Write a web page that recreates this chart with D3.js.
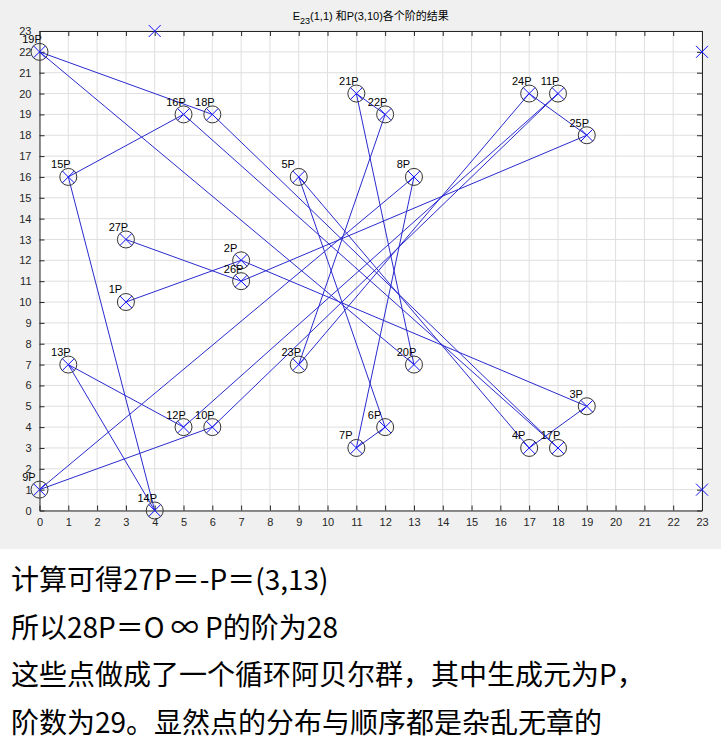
<!DOCTYPE html>
<html>
<head>
<meta charset="utf-8">
<script src="https://cdn.jsdelivr.net/npm/d3@7"></script>
<style>
  html, body { margin: 0; padding: 0; background: #ffffff; }
  svg { display: block; }
</style>
</head>
<body>
<script>
// ---- data ----
const pointLabels = ["1P","2P","3P","4P","5P","6P","7P","8P","9P","10P","11P","12P","13P","14P","15P","16P","17P","18P","19P","20P","21P","22P","23P","24P","25P","26P","27P"];
const pointX = [3,7,19,17,9,12,11,13,0,6,18,5,1,4,1,5,18,6,0,13,11,12,9,17,19,7,3];
const pointY = [10,12,5,3,16,4,3,16,1,4,20,4,7,0,16,19,3,19,22,7,20,19,7,20,18,11,13];
const extraX = [4,23,23];
const extraY = [23,22,1];
const xTicks = d3.range(0, 24);
const yTicks = d3.range(0, 24);
const textLines = [
  "计算可得27P＝-P＝(3,13)",
  "所以28P＝O ∞ P的阶为28",
  "这些点做成了一个循环阿贝尔群，其中生成元为P，",
  "阶数为29。显然点的分布与顺序都是杂乱无章的"
];

// ---- layout ----
const W = 721, H = 752;
const svg = d3.select("body").append("svg").attr("width", W).attr("height", H);
svg.append("rect").attr("x", 0).attr("y", 0).attr("width", W).attr("height", 549).attr("fill", "#f0f0f0");
svg.append("rect").attr("x", 0).attr("y", 549).attr("width", W).attr("height", H - 549).attr("fill", "#ffffff");

const x = d3.scaleLinear().domain([0, 23]).range([39.5, 702]);
const y = d3.scaleLinear().domain([0, 23]).range([510.5, 31]);

const axFont = "'Liberation Sans', Arial, sans-serif";
const axColor = "#262626";

// plot area
svg.append("rect").attr("x", x(0)).attr("y", y(23)).attr("width", x(23) - x(0)).attr("height", y(0) - y(23)).attr("fill", "#ffffff");

// grid
const grid = svg.append("g");
grid.selectAll("line.gx").data(xTicks).enter().append("line")
  .attr("x1", d => x(d)).attr("x2", d => x(d)).attr("y1", y(0)).attr("y2", y(23))
  .attr("stroke", "#dfdfdf").attr("stroke-width", 1);
grid.selectAll("line.gy").data(yTicks).enter().append("line")
  .attr("y1", d => y(d)).attr("y2", d => y(d)).attr("x1", x(0)).attr("x2", x(23))
  .attr("stroke", "#dfdfdf").attr("stroke-width", 1);

// axes (MATLAB box style, inward ticks)
const tl = 5;
const bottomAxis = d3.axisBottom(x).tickValues(xTicks).tickSizeInner(-tl).tickSizeOuter(0).tickPadding(8);
const topAxis = d3.axisTop(x).tickValues(xTicks).tickSizeInner(-tl).tickSizeOuter(0).tickFormat("");
const leftAxis = d3.axisLeft(y).tickValues(yTicks).tickSizeInner(-tl).tickSizeOuter(0).tickPadding(8);
const rightAxis = d3.axisRight(y).tickValues(yTicks).tickSizeInner(-tl).tickSizeOuter(0).tickFormat("");

function styleAxis(g) {
  g.select(".domain").attr("stroke", axColor).attr("stroke-width", 1);
  g.selectAll(".tick line").attr("stroke", axColor).attr("stroke-width", 1);
  g.selectAll(".tick text").attr("fill", axColor).style("font-family", axFont).style("font-size", "11px");
}
svg.append("g").attr("transform", `translate(0,${y(0)})`).call(bottomAxis).call(styleAxis);
svg.append("g").attr("transform", `translate(0,${y(23)})`).call(topAxis).call(styleAxis);
svg.append("g").attr("transform", `translate(${x(0)},0)`).call(leftAxis).call(styleAxis);
svg.append("g").attr("transform", `translate(${x(23)},0)`).call(rightAxis).call(styleAxis);

// polyline
const pts = pointX.map((d, i) => [pointX[i], pointY[i]]);
svg.append("path")
  .attr("d", d3.line().x(d => x(d[0])).y(d => y(d[1]))(pts))
  .attr("fill", "none").attr("stroke", "#2a2acf").attr("stroke-width", 1);

// circles
svg.selectAll("circle.pt").data(pts).enter().append("circle")
  .attr("cx", d => x(d[0])).attr("cy", d => y(d[1])).attr("r", 8.5)
  .attr("fill", "none").attr("stroke", "#333333").attr("stroke-width", 1);

// x markers
function xMark(sel, px, py) {
  const s = 6;
  sel.append("path")
    .attr("d", `M${px - s},${py - s}L${px + s},${py + s}M${px - s},${py + s}L${px + s},${py - s}`)
    .attr("stroke", "#1010ff").attr("stroke-width", 1).attr("fill", "none");
}
const mk = svg.append("g");
pts.forEach(d => xMark(mk, x(d[0]), y(d[1])));
extraX.forEach((d, i) => xMark(mk, x(extraX[i]), y(extraY[i])));

// labels
svg.selectAll("text.lbl").data(pts).enter().append("text")
  .attr("x", (d) => x(d[0] - 0.6)).attr("y", d => y(d[1] + 0.55))
  .attr("dominant-baseline", "middle")
  .style("font-family", axFont).style("font-size", "11px").attr("fill", "#000")
  .text((d, i) => pointLabels[i]);

// title
const title = svg.append("text").attr("x", (x(0) + x(23)) / 2).attr("y", 20)
  .attr("text-anchor", "middle").attr("fill", "#000")
  .style("font-family", "'Liberation Sans', 'Noto Sans CJK SC', sans-serif").style("font-size", "11px");
title.append("tspan").text("E");
title.append("tspan").attr("dy", 4).style("font-size", "9px").text("23");
title.append("tspan").attr("dy", -4).text("(1,1) 和P(3,10)各个阶的结果");

// bottom text
svg.selectAll("text.body").data(textLines).enter().append("text")
  .attr("x", 11).attr("y", (d, i) => 590 + i * 47.7)
  .style("font-family", "'Noto Sans CJK SC', sans-serif").style("font-size", "28px")
  .attr("fill", "#000")
  .text(d => d);
</script>
</body>
</html>
